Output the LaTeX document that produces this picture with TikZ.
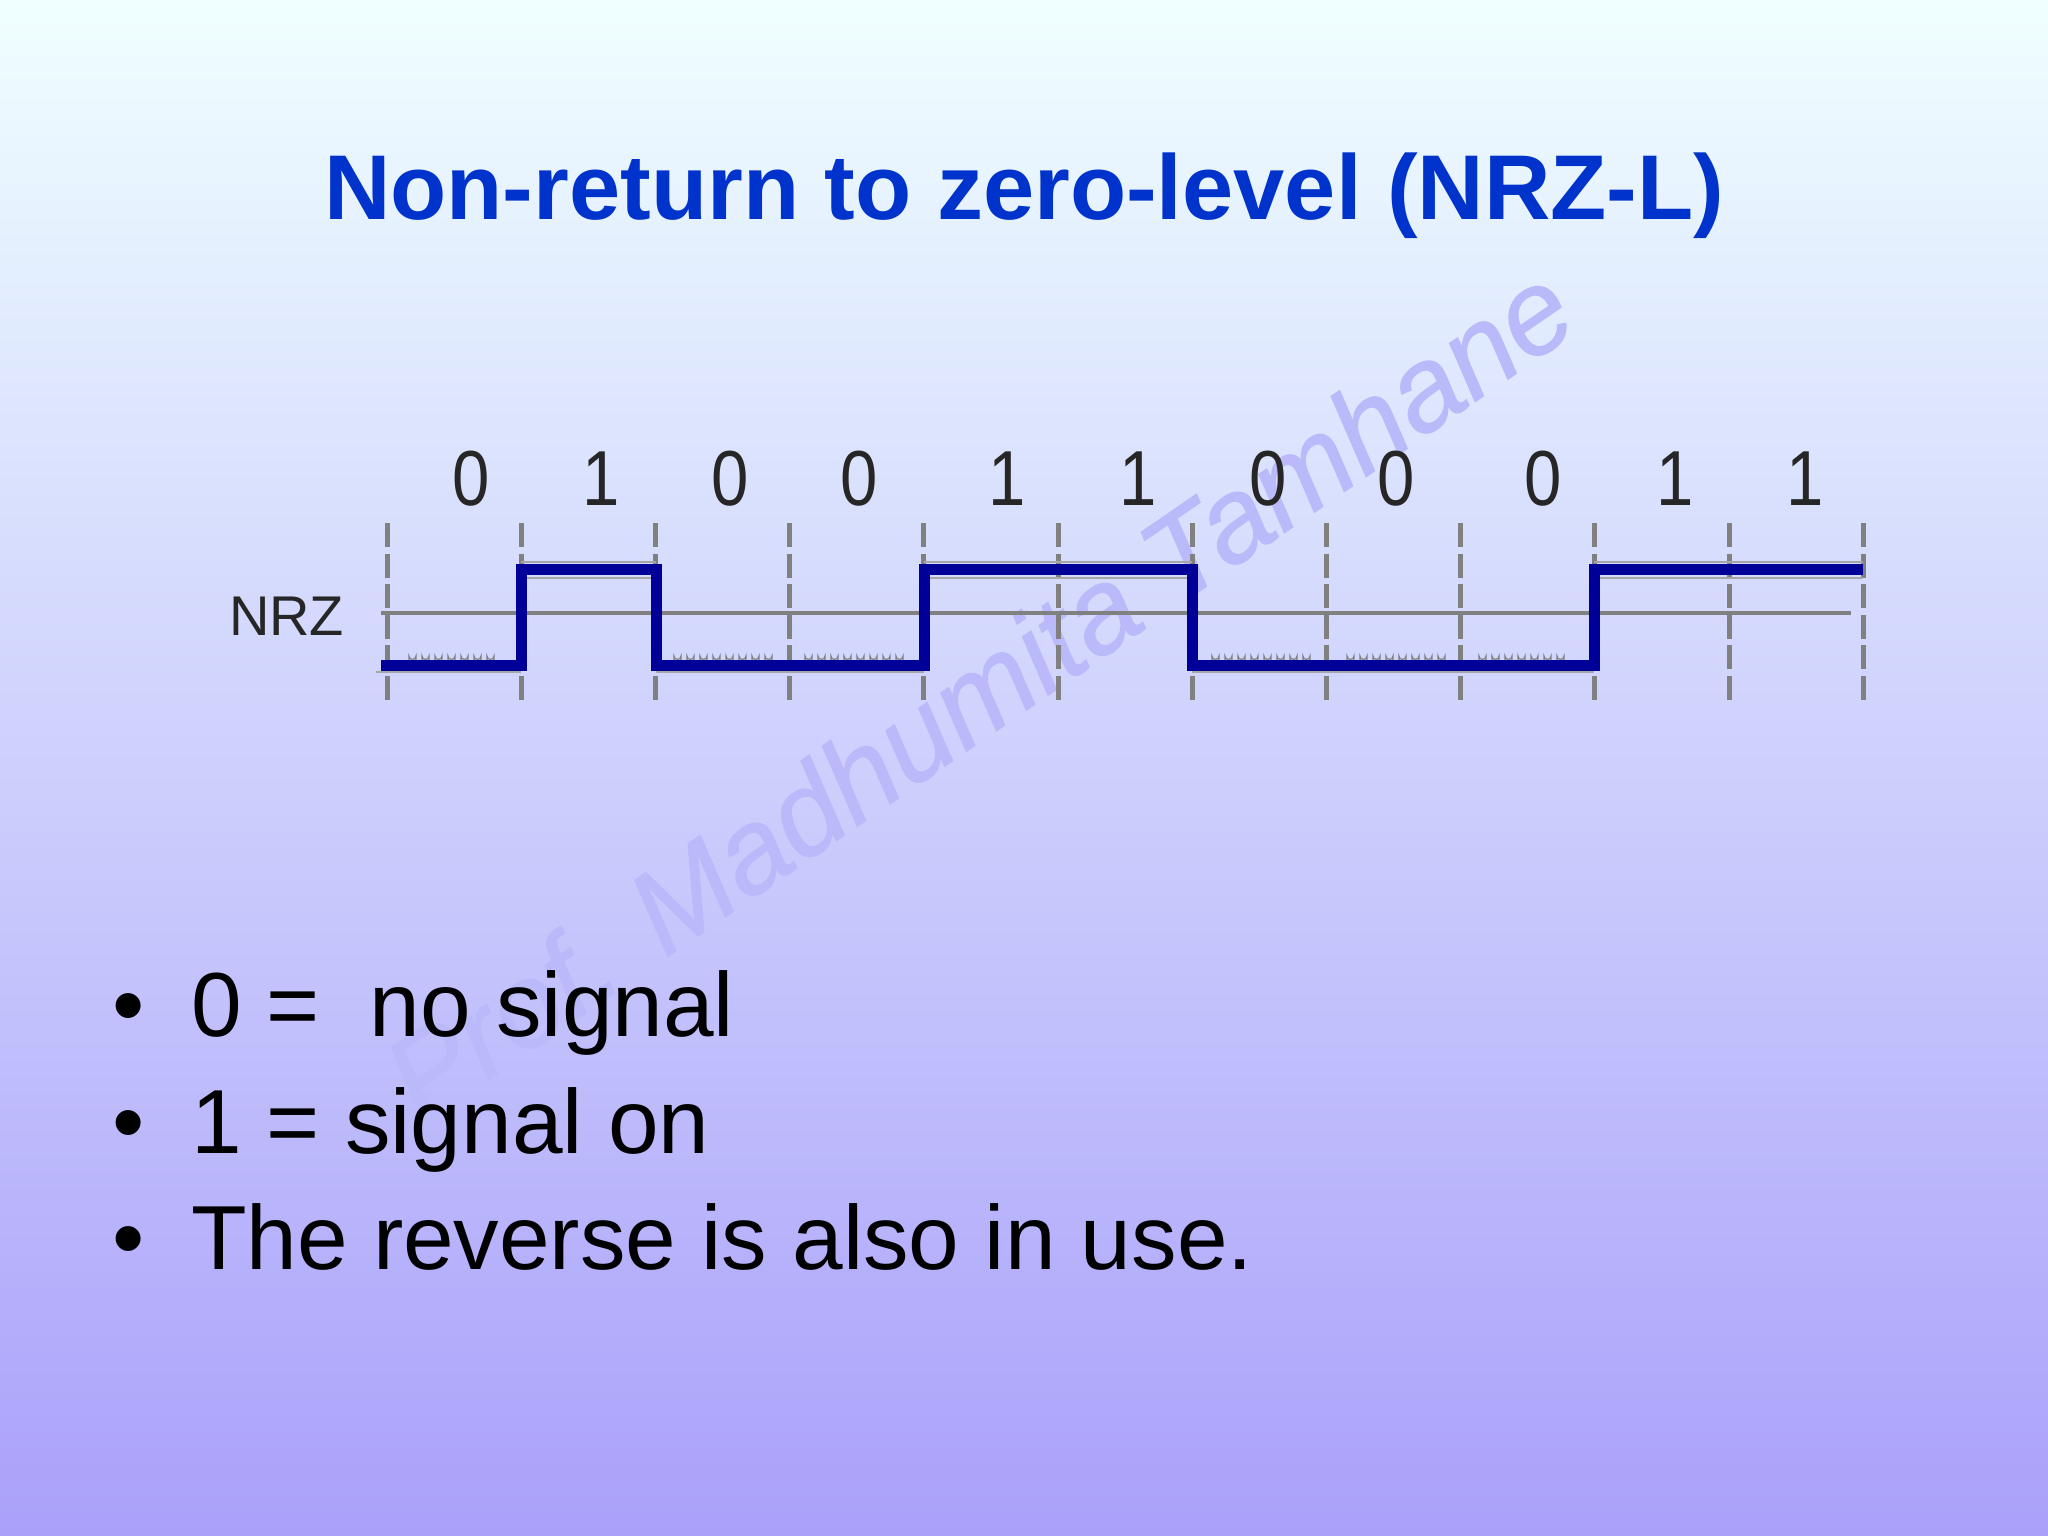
\documentclass[tikz,border=0pt]{standalone}
\usepackage{fontspec}
\setmainfont{Liberation Sans}
\definecolor{bgtop}{RGB}{240,255,255}
\definecolor{bgbot}{RGB}{170,160,250}
\definecolor{titleblue}{RGB}{0,51,204}
\definecolor{mark}{RGB}{186,186,250}
\definecolor{wave}{RGB}{0,0,153}
\definecolor{grid}{RGB}{128,128,128}
\tikzset{
  txt/.style={inner sep=0pt,outer sep=0pt,anchor=base west},
  bitlabel/.style={inner sep=0pt,outer sep=0pt,anchor=base,xscale=.86,font=\fontsize{78}{78}\selectfont,text=black!85},
  bullettext/.style={txt,font=\fontsize{91}{91}\selectfont,text=black},
  tick/.style={grid,line width=5pt,dash pattern=on 24pt off 6.6pt},
  axisline/.style={grid,line width=4pt},
  signal/.style={wave,line width=11pt,miter limit=10},
  shadowline/.style={grid!70,line width=2.5pt},
  ripple/.style={grid,line width=1.2pt}
}
\begin{document}
\begin{tikzpicture}[x=1pt,y=-1pt]
\useasboundingbox (0,0) rectangle (2048,1536);
\shade[top color=bgtop,bottom color=bgbot] (0,0) rectangle (2048,1536);
% watermark
\node[inner sep=0pt,anchor=center,rotate=34.5,text=mark,font=\fontsize{119}{119}\selectfont\itshape\addfontfeatures{FakeBold=0.8}] (wm) at (978,692) {Prof. Madhumita Tamhane};
% title
\node[txt,text=titleblue,font=\fontsize{92}{92}\selectfont\bfseries] (title) at (324,219) {Non-return to zero-level (NRZ-L)};
% ticks
\foreach \i in {0,...,11}{
  \coordinate (t\i) at ({387+134.2*\i},523);
  \coordinate (b\i) at ({387+134.2*\i},700);
  \draw[tick] (t\i) -- (b\i);
}
% axis
\coordinate (a0) at (381,613);
\coordinate (a1) at (1851,613);
\draw[axisline] (a0) -- (a1);
% shadows
\draw[shadowline] (521,562) -- (656,562) (521,578) -- (656,578);
\draw[shadowline] (924,562) -- (1192,562) (924,578) -- (1192,578);
\draw[shadowline] (1594,562) -- (1863,562) (1594,578) -- (1863,578);
\draw[shadowline] (376,672) -- (521,672) (656,672) -- (924,672) (1192,672) -- (1594,672);
% ripples
\foreach \s/\n in {409/7,674/8,805/8,1212/8,1347/8,1479/7}{
  \foreach \k in {1,...,\n}{
    \draw[ripple] ({\s+13*(\k-1)},660) -- ++(0,-4) arc[start angle=180,end angle=0,radius=3.5] -- ++(0,4);
  }
}
% signal
\draw[signal] (381,665) -- (521,665) -- (521,569) -- (656,569) -- (656,665) -- (924,665) -- (924,569) -- (1192,569) -- (1192,665) -- (1594,665) -- (1594,569) -- (1863,569);
% bits
\foreach \x/\b/\n in {471/0/a,601/1/b,730/0/c,859/0/d,1007/1/e,1138/1/f,1268/0/g,1396/0/h,1543/0/i,1675/1/j,1805/1/k}{
  \node[bitlabel] (bit\n) at (\x,505) {\b};
}
\node[txt,font=\fontsize{56}{56}\selectfont,text=black!85] (nrz) at (229,635) {NRZ};
% bullets
\node[txt,font=\fontsize{92}{92}\selectfont] (d1) at (112,1036) {•};
\node[txt,font=\fontsize{92}{92}\selectfont] (d2) at (112,1153) {•};
\node[txt,font=\fontsize{92}{92}\selectfont] (d3) at (112,1269) {•};
\node[bullettext] (l1) at (191,1036) {0 =\hspace{0.55em}no signal};
\node[bullettext] (l2) at (191,1153) {1 = signal on};
\node[bullettext] (l3) at (191,1269) {The reverse is also in use.};
\end{tikzpicture}
\end{document}
